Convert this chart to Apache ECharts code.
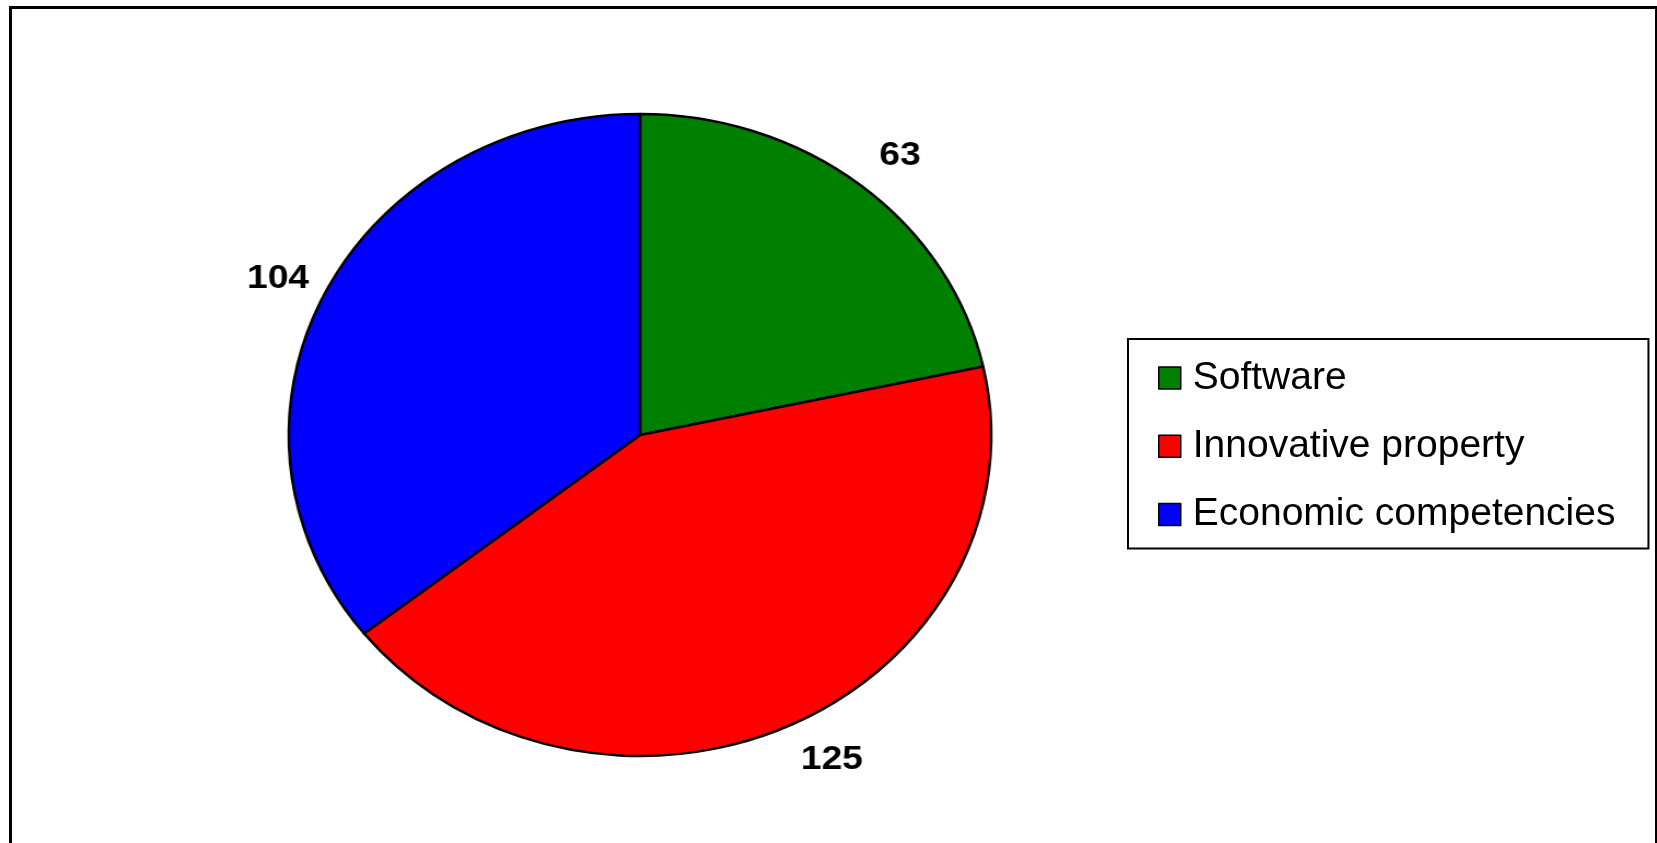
<!DOCTYPE html>
<html>
<head>
<meta charset="utf-8">
<script src="https://cdn.jsdelivr.net/npm/echarts@6/dist/echarts.min.js"></script>
<style>
  html, body { margin: 0; padding: 0; background: #ffffff; }
  #wrap { position: relative; width: 1657px; height: 843px; overflow: hidden; }
  #main { position: absolute; left: 0; top: 0; width: 1657px; height: 843px; z-index: 0; }
  #pie { position: absolute; left: 0; top: 0; width: 1657px; height: 843px; z-index: 1;
         transform-origin: 640px 435px; transform: scaleX(1.094); }
</style>
</head>
<body>
<div id="wrap">
  <div id="main"></div>
  <div id="pie"></div>
</div>
<script>
// ---- data ----
const categories = ['Software', 'Innovative property', 'Economic competencies'];
const values = [63, 125, 104];
const colors = ['#008000', '#FF0000', '#0000FF'];

const pieData = categories.map((name, i) => ({ name: name, value: values[i] }));
const FONT = '"Liberation Sans", Arial, Helvetica, sans-serif';

// ---- main chart: frame + legend ----
const main = echarts.init(document.getElementById('main'), null, { renderer: 'canvas' });
main.setOption({
  animation: false,
  color: colors,
  graphic: [{
    type: 'rect',
    shape: { x: 10.5, y: 7.5, width: 1646, height: 900 },
    style: { fill: 'none', stroke: '#000', lineWidth: 3 },
    silent: true
  }],
  legend: {
    orient: 'vertical',
    left: 1128,
    top: 339,
    padding: [19.5, 33, 14.5, 30],
    borderColor: '#000',
    borderWidth: 2,
    itemWidth: 22,
    itemHeight: 22,
    itemGap: 29.2,
    icon: 'rect',
    selectedMode: false,
    itemStyle: { borderColor: '#000', borderWidth: 1.5, opacity: 1 },
    textStyle: { fontSize: 39, lineHeight: 39, fontFamily: FONT, color: '#000', padding: [0, 0, 0, 7] },
    data: categories
  },
  series: [{
    type: 'pie',
    name: 'legend',
    center: [640, 435],
    radius: [0, 0],
    silent: true,
    label: { show: false },
    labelLine: { show: false },
    itemStyle: { opacity: 0 },
    data: pieData
  }]
});

// ---- pie chart (stretched horizontally to the ellipse of the reference) ----
const pie = echarts.init(document.getElementById('pie'), null, { renderer: 'canvas' });
pie.setOption({
  animation: false,
  color: colors,
  series: [
    {
      type: 'pie',
      name: 'slices',
      center: [640, 435],
      radius: [0, 321],
      startAngle: 90,
      clockwise: true,
      silent: true,
      avoidLabelOverlap: false,
      itemStyle: { borderColor: '#000', borderWidth: 2.5 },
      emphasis: { disabled: true },
      label: {
        show: true,
        position: 'outside',
        formatter: '{c}',
        fontSize: 34,
        fontWeight: 'bold',
        fontFamily: FONT,
        color: '#000',
        distanceToLabelLine: -20.5,
        padding: [12, 0, 0, 14.2]
      },
      labelLine: { show: false, length: 38, length2: 0 },
      data: pieData
    }
  ]
});
</script>
</body>
</html>
